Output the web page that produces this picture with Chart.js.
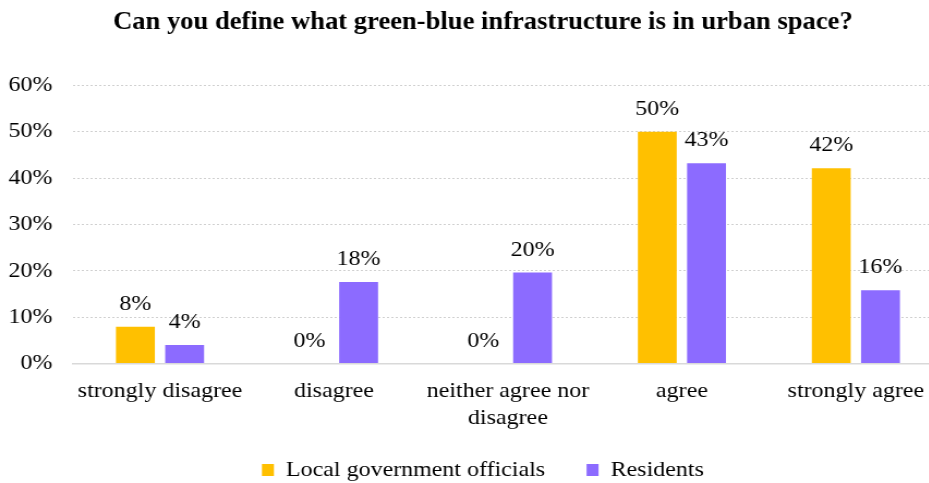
<!DOCTYPE html>
<html>
<head>
<meta charset="utf-8">
<script src="https://cdn.jsdelivr.net/npm/chart.js@4.4.0/dist/chart.umd.min.js"></script>
<style>
  html, body { margin: 0; padding: 0; background: #fff; overflow: hidden; }
  /* the reference is a little wider than its glyphs, so stretch the canvas horizontally */
  #wrap { width: 886px; height: 483px; transform: scaleX(1.09); transform-origin: 0 0; }
</style>
</head>
<body>
<div id="wrap"><canvas id="myChart" width="886" height="483"></canvas></div>
<script>
const categories = ['strongly disagree', 'disagree', ['neither agree nor', 'disagree'], 'agree', 'strongly agree'];
const officials = [7.9, 0, 0, 50, 42.1];
const residents = [4, 17.6, 19.6, 43.2, 15.8];
const yTicks = [0, 10, 20, 30, 40, 50, 60];

const serif = "'Liberation Serif', 'Times New Roman', serif";

// draws the percent labels above each bar
const valueLabels = {
    id: 'valueLabels',
    afterLayout(chart) {
        // x labels may run into the legend box; don't clip them
        chart.scales.x._computeLabelArea = () => null;
    },
    afterDatasetsDraw(chart) {
        const ctx = chart.ctx;
        ctx.save();
        ctx.font = '22px ' + serif;
        ctx.fillStyle = '#000';
        ctx.textAlign = 'center';
        ctx.textBaseline = 'alphabetic';
        chart.data.datasets.forEach((ds, i) => {
            chart.getDatasetMeta(i).data.forEach((bar, j) => {
                ctx.fillText(Math.round(ds.data[j]) + '%', bar.x, bar.y - 17);
            });
        });
        ctx.restore();
    }
};

const ctx = document.getElementById('myChart').getContext('2d');
new Chart(ctx, {
    type: 'bar',
    data: {
        labels: categories,
        datasets: [
            { label: 'Local government officials', data: officials, backgroundColor: '#FFC000' },
            { label: 'Residents', data: residents, backgroundColor: '#8C6BFF' }
        ]
    },
    options: {
        responsive: false,
        animation: false,
        devicePixelRatio: 1,
        categoryPercentage: 0.566,
        barPercentage: 0.79,
        layout: { padding: { left: 0, right: 0, top: 0, bottom: -8 } },
        plugins: {
            title: {
                display: true,
                text: 'Can you define what green-blue infrastructure is in urban space?',
                color: '#000',
                font: { family: serif, size: 24.4, weight: 'bold' },
                padding: { top: 8, bottom: 48 }
            },
            legend: {
                position: 'bottom',
                labels: {
                    color: '#000',
                    font: { family: serif, size: 22 },
                    boxWidth: 11,
                    boxHeight: 12,
                    padding: 38
                }
            },
            tooltip: { enabled: false }
        },
        scales: {
            x: {
                grid: { display: false, drawTicks: false },
                border: { color: '#d9d9d9', width: 1.5 },
                ticks: {
                    color: '#000',
                    font: { family: serif, size: 22 },
                    padding: 15,
                    maxRotation: 0,
                    autoSkip: false
                },
                afterFit: axis => { axis.height = 57.5; }
            },
            y: {
                min: 0,
                max: 60,
                afterBuildTicks: axis => { axis.ticks = yTicks.map(v => ({ value: v })); },
                afterFit: axis => { axis.width = 67; },
                grid: { color: '#d0d0d0', drawTicks: false },
                border: { display: false, dash: [2, 2] },
                ticks: {
                    color: '#000',
                    font: { family: serif, size: 22 },
                    padding: 19,
                    callback: v => v + '%'
                }
            },
            // empty strip on the right so the plot ends where the reference's does
            yRight: {
                position: 'right',
                grid: { display: false, drawTicks: false },
                border: { display: false },
                ticks: { display: false },
                afterFit: axis => { axis.width = 21; }
            }
        }
    },
    plugins: [valueLabels]
});
</script>
</body>
</html>
